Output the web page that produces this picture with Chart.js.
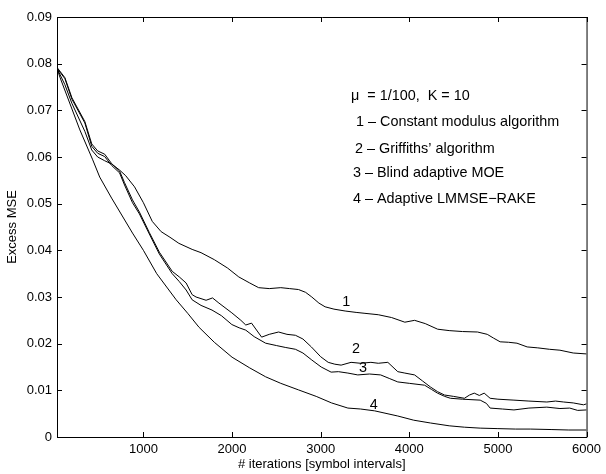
<!DOCTYPE html>
<html>
<head>
<meta charset="utf-8">
<script src="https://cdn.jsdelivr.net/npm/chart.js@4.4.1/dist/chart.umd.min.js"></script>
<style>
html,body{margin:0;padding:0;background:#fff;}
canvas{display:block;}
</style>
</head>
<body>
<canvas id="c" width="606" height="474"></canvas>
<script>
// ---------------- DATA ----------------
const xTicks = [1000, 2000, 3000, 4000, 5000, 6000];
const xTickLabels = ["1000", "2000", "3000", "4000", "5000", "6000"];
const yTicks = [0, 0.01, 0.02, 0.03, 0.04, 0.05, 0.06, 0.07, 0.08, 0.09];
const yTickLabels = ["0", "0.01", "0.02", "0.03", "0.04", "0.05", "0.06", "0.07", "0.08", "0.09"];

const seriesNames = ["1", "2", "3", "4"];

// Curve 1 - Constant modulus algorithm
const cmaX = [25,114,193,339,417,484,563,641,731,800,900,1000,1100,1200,1300,1400,1550,1650,1800,1950,2076,2200,2300,2420,2550,2650,2750,2830,2900,2980,3050,3150,3276,3400,3500,3650,3800,3950,4060,4180,4320,4450,4600,4770,4880,4950,5025,5120,5215,5330,5450,5580,5700,5850,6000];
const cmaY = [0.0790,0.0755,0.0715,0.0655,0.0615,0.0600,0.0592,0.0585,0.0572,0.0560,0.0536,0.0502,0.0462,0.0440,0.0428,0.0415,0.0402,0.0395,0.0380,0.0362,0.0343,0.0330,0.0320,0.0318,0.0320,0.0318,0.0316,0.0310,0.0300,0.0287,0.0279,0.0274,0.0270,0.0267,0.0265,0.0262,0.0256,0.0246,0.0250,0.0243,0.0231,0.0228,0.0226,0.0225,0.0220,0.0212,0.0204,0.0203,0.0201,0.0193,0.0191,0.0188,0.0186,0.0180,0.0178];

// Curve 2 - Griffiths' algorithm
const grfX = [25,114,193,339,417,484,563,641,731,787,877,955,1067,1180,1325,1405,1482,1550,1594,1707,1780,1852,1998,2100,2155,2220,2334,2420,2525,2620,2715,2800,2895,3000,3085,3160,3231,3343,3450,3567,3650,3758,3870,3950,4060,4150,4240,4320,4397,4500,4622,4680,4733,4790,4845,4912,5000,5181,5350,5552,5650,5742,5850,5966,6000];
const grfY = [0.0792,0.0770,0.0727,0.0676,0.0628,0.0613,0.0606,0.0586,0.0570,0.0545,0.0508,0.0482,0.0438,0.0396,0.0355,0.0343,0.0330,0.0305,0.0300,0.0293,0.0298,0.0287,0.0266,0.0250,0.0240,0.0244,0.0214,0.0220,0.0225,0.0220,0.0218,0.0210,0.0193,0.0172,0.0160,0.0156,0.0154,0.0160,0.0158,0.0160,0.0158,0.0160,0.0140,0.0137,0.0133,0.0120,0.0107,0.0097,0.0090,0.0087,0.0083,0.0090,0.0094,0.0089,0.0094,0.0083,0.0081,0.0079,0.0077,0.0075,0.0077,0.0075,0.0073,0.0069,0.0071];

// Curve 3 - Blind adaptive MOE
const moeX = [25,114,193,339,417,484,563,641,731,787,877,955,1067,1180,1325,1405,1482,1550,1650,1774,1880,1998,2080,2155,2250,2379,2500,2600,2715,2800,2900,3006,3118,3200,3307,3419,3550,3677,3780,3870,4000,4173,4250,4318,4400,4464,4600,4800,4870,4912,5050,5181,5350,5552,5700,5810,5900,6000];
const moeY = [0.0790,0.0768,0.0724,0.0673,0.0623,0.0608,0.0601,0.0582,0.0566,0.0540,0.0502,0.0478,0.0435,0.0392,0.0350,0.0333,0.0315,0.0294,0.0282,0.0272,0.0260,0.0241,0.0234,0.0229,0.0215,0.0201,0.0196,0.0192,0.0188,0.0180,0.0165,0.0150,0.0139,0.0140,0.0137,0.0133,0.0135,0.0133,0.0125,0.0118,0.0115,0.0111,0.0102,0.0094,0.0087,0.0083,0.0081,0.0079,0.0072,0.0062,0.0060,0.0058,0.0062,0.0064,0.0061,0.0062,0.0057,0.0058];

// Curve 4 - Adaptive LMMSE-RAKE
const rakeX = [25,58,283,428,507,641,877,1000,1150,1370,1500,1628,1800,2000,2200,2379,2550,2749,2950,3123,3307,3450,3610,3870,4050,4240,4450,4622,4800,4991,5200,5365,5600,5800,6000];
const rakeY = [0.0790,0.0771,0.0658,0.0594,0.0557,0.0512,0.0437,0.0400,0.0350,0.0294,0.0265,0.0235,0.0203,0.0171,0.0148,0.0129,0.0115,0.0101,0.0087,0.0073,0.0062,0.0060,0.0056,0.0045,0.0036,0.0030,0.0024,0.0021,0.0019,0.0018,0.0017,0.0017,0.0016,0.0015,0.0015];

const infoLines = [
  "\u03bc  = 1/100,  K = 10",
  "1 \u2013 Constant modulus algorithm",
  "2 \u2013 Griffiths\u2019 algorithm",
  "3 \u2013 Blind adaptive MOE",
  "4 \u2013 Adaptive LMMSE\u2212RAKE"
];
// curve label anchor points (data coords)
const labelX = [3290, 3400, 3478, 3600];
const labelY = [0.0289, 0.0189, 0.0148, 0.0069];

// ---------------- CHART ----------------
const FONT = "'Liberation Sans', Arial, Helvetica, sans-serif";
const toPts = (xs, ys) => xs.map((x, i) => ({x: x, y: ys[i]}));

function ds(xs, ys) {
  return {
    data: toPts(xs, ys),
    borderColor: '#000',
    borderWidth: 1,
    pointRadius: 0,
    tension: 0,
    fill: false
  };
}

const framePlugin = {
  id: 'frame',
  afterDraw(chart) {
    const ctx = chart.ctx;
    const a = chart.chartArea;
    const sx = chart.scales.x, sy = chart.scales.y;
    ctx.save();
    ctx.strokeStyle = '#000';
    ctx.lineWidth = 1;
    ctx.beginPath();
    ctx.rect(a.left + 0.5, a.top + 0.5, a.right - a.left, a.bottom - a.top);
    ctx.stroke();
    const tl = 5;
    ctx.beginPath();
    xTicks.forEach(v => {
      const px = Math.round(sx.getPixelForValue(v)) + 0.5;
      ctx.moveTo(px, a.bottom); ctx.lineTo(px, a.bottom - tl);
      ctx.moveTo(px, a.top); ctx.lineTo(px, a.top + tl);
    });
    yTicks.forEach(v => {
      const py = Math.round(sy.getPixelForValue(v)) + 0.5;
      ctx.moveTo(a.left, py); ctx.lineTo(a.left + tl, py);
      ctx.moveTo(a.right, py); ctx.lineTo(a.right - tl, py);
    });
    ctx.stroke();

    ctx.fillStyle = '#000';
    ctx.font = '14.4px ' + FONT;
    ctx.textAlign = 'left';
    ctx.textBaseline = 'alphabetic';
    const infoPos = [[351, 100], [356, 126], [355, 153], [353, 177], [353, 203]];
    infoLines.forEach((t, i) => ctx.fillText(t, infoPos[i][0], infoPos[i][1]));

    ctx.textAlign = 'center';
    ctx.textBaseline = 'middle';
    seriesNames.forEach((n, i) => {
      ctx.fillText(n, sx.getPixelForValue(labelX[i]), sy.getPixelForValue(labelY[i]));
    });
    ctx.restore();
  }
};

new Chart(document.getElementById('c'), {
  type: 'line',
  data: {
    datasets: [ds(cmaX, cmaY), ds(grfX, grfY), ds(moeX, moeY), ds(rakeX, rakeY)]
  },
  options: {
    responsive: false,
    animation: false,
    events: [],
    layout: {padding: {top: 17, right: 16, left: 0, bottom: 0}},
    plugins: {legend: {display: false}, tooltip: {enabled: false}},
    scales: {
      x: {
        type: 'linear',
        min: 25, max: 6000,
        afterBuildTicks: s => { s.ticks = xTicks.map(v => ({value: v})); },
        afterFit: s => { s.height = 37; },
        grid: {display: false, drawTicks: false},
        border: {display: false},
        ticks: {
          autoSkip: false, maxRotation: 0, padding: 5,
          color: '#000', font: {family: FONT, size: 13},
          callback: (v) => xTickLabels[xTicks.indexOf(v)]
        },
        title: {display: true, text: '# iterations [symbol intervals]', color: '#000',
                font: {family: FONT, size: 13}, padding: {top: 0, bottom: 2}}
      },
      y: {
        type: 'linear',
        min: 0, max: 0.09,
        afterBuildTicks: s => { s.ticks = yTicks.map(v => ({value: v})); },
        afterFit: s => { s.width = 57; },
        grid: {display: false, drawTicks: false},
        border: {display: false},
        ticks: {
          autoSkip: false, padding: 5,
          color: '#000', font: {family: FONT, size: 13},
          callback: (v) => { const i = yTicks.findIndex(t => Math.abs(t - v) < 1e-9); return yTickLabels[i]; }
        },
        title: {display: true, text: 'Excess MSE', color: '#000',
                font: {family: FONT, size: 13}, padding: {top: 5, bottom: 0}}
      }
    }
  },
  plugins: [framePlugin]
});
</script>
</body>
</html>
